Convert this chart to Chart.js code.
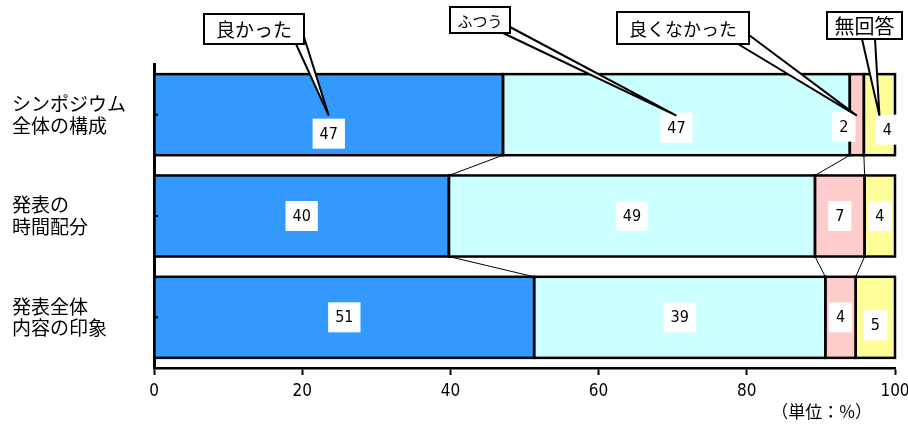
<!DOCTYPE html>
<html>
<head>
<meta charset="utf-8">
<script src="https://cdn.jsdelivr.net/npm/chart.js@4/dist/chart.umd.min.js"></script>
<style>
  html, body { margin: 0; padding: 0; background: #fff; }
  #wrap { width: 908px; height: 425px; }
</style>
</head>
<body>
<div id="wrap"><canvas id="c" width="908" height="425"></canvas></div>
<script>
// Survey results (%), one array per answer
const categories = [['シンポジウム', '全体の構成'], ['発表の', '時間配分'], ['発表全体', '内容の印象']];
const seriesNames = ['良かった', 'ふつう', '良くなかった', '無回答'];
const good     = [47.1, 39.8, 51.3];
const neutral  = [46.8, 49.4, 39.3];
const bad      = [1.9, 6.7, 4.1];
const noAnswer = [4.2, 4.1, 5.3];
const xTicks   = [0, 20, 40, 60, 80, 100];
const unitText = '（単位：%）';

const seriesValues = [good, neutral, bad, noAnswer];
const seriesColors = ['#3399FF', '#CCFFFF', '#FFCCCC', '#FFFF99'];

const NUM_FONT = "'Liberation Sans Narrow', 'DejaVu Sans Condensed', 'Liberation Sans', sans-serif";
const JP_FONT = "'Noto Sans CJK JP', sans-serif";

// Draws segment outlines, series lines between bars, value boxes and series callouts
const overlay = {
  id: 'overlay',
  afterDatasetsDraw(chart, args, opts) {
    const ctx = chart.ctx;
    const metas = chart.data.datasets.map((d, i) => chart.getDatasetMeta(i));
    const rows = chart.data.labels.length;
    ctx.save();

    // series lines joining segment ends of neighbouring bars
    ctx.strokeStyle = '#000';
    ctx.lineWidth = 1;
    for (let r = 0; r < rows - 1; r++) {
      for (let s = 0; s < metas.length - 1; s++) {
        const a = metas[s].data[r], b = metas[s].data[r + 1];
        ctx.beginPath();
        ctx.moveTo(a.x, a.y + a.height / 2);
        ctx.lineTo(b.x, b.y - b.height / 2);
        ctx.stroke();
      }
    }

    // segment outlines
    ctx.lineWidth = 2.5;
    metas.forEach(m => m.data.forEach(el => {
      ctx.strokeRect(el.base, el.y - el.height / 2, el.x - el.base, el.height);
    }));

    // value labels in white boxes
    ctx.font = '16px ' + NUM_FONT;
    ctx.textAlign = 'center';
    ctx.textBaseline = 'middle';
    metas.forEach((m, s) => m.data.forEach((el, r) => {
      const v = chart.data.datasets[s].data[r];
      const txt = String(Math.round(v));
      const nudge = (opts.nudge[r] && opts.nudge[r][s]) || [0, 0];
      const cx = (el.x + el.base) / 2 + nudge[0];
      const cy = el.y + nudge[1];
      const w = ctx.measureText(txt).width + 14, h = 30;
      ctx.fillStyle = '#fff';
      ctx.fillRect(cx - w / 2, cy - h / 2, w, h);
      ctx.fillStyle = '#000';
      ctx.fillText(txt, cx, cy + 1);
    }));

    // callouts naming each series, pointing at the first bar
    opts.callouts.forEach((c, s) => {
      const el = metas[s].data[0];
      const tip = { x: (el.x + el.base) / 2, y: el.y + 1 };
      ctx.beginPath();
      ctx.moveTo(c.base[0][0], c.base[0][1]);
      ctx.lineTo(tip.x, tip.y);
      ctx.lineTo(c.base[1][0], c.base[1][1]);
      ctx.closePath();
      ctx.fillStyle = '#fff';
      ctx.fill();
      ctx.strokeStyle = '#000';
      ctx.lineWidth = 2;
      ctx.beginPath();
      ctx.moveTo(c.base[0][0], c.base[0][1]);
      ctx.lineTo(tip.x, tip.y);
      ctx.lineTo(c.base[1][0], c.base[1][1]);
      ctx.stroke();
      ctx.fillStyle = '#fff';
      ctx.fillRect(c.box[0], c.box[1], c.box[2], c.box[3]);
      ctx.lineWidth = 2;
      ctx.strokeRect(c.box[0], c.box[1], c.box[2], c.box[3]);
      ctx.fillStyle = '#000';
      ctx.font = c.size + 'px ' + JP_FONT;
      ctx.textAlign = 'center';
      ctx.textBaseline = 'middle';
      ctx.fillText(seriesNames[s], c.box[0] + c.box[2] / 2, c.box[1] + c.box[3] / 2 + 1);
    });

    // inner tick marks on the category axis
    const yScale = chart.scales.y;
    ctx.lineWidth = 2;
    yScale.ticks.forEach((t, i) => {
      const py = yScale.getPixelForTick(i);
      ctx.beginPath();
      ctx.moveTo(chart.chartArea.left, py);
      ctx.lineTo(chart.chartArea.left + 4, py);
      ctx.stroke();
    });

    // unit note
    ctx.font = '17px ' + JP_FONT;
    ctx.textAlign = 'right';
    ctx.textBaseline = 'middle';
    ctx.fillStyle = '#000';
    ctx.fillText(unitText, 872, 412);
    ctx.restore();
  }
};

new Chart(document.getElementById('c'), {
  type: 'bar',
  data: {
    labels: categories,
    datasets: seriesNames.map((name, i) => ({
      label: name,
      data: seriesValues[i],
      backgroundColor: seriesColors[i],
      borderWidth: 0,
      barPercentage: 0.8,
      categoryPercentage: 1.0
    }))
  },
  options: {
    indexAxis: 'y',
    responsive: false,
    devicePixelRatio: 1,
    animation: false,
    layout: { padding: { top: 64, left: 12, right: 0, bottom: 0 } },
    plugins: {
      legend: { display: false },
      tooltip: { enabled: false },
      overlay: {
        nudge: [
          [[0, 19], [0, 13], [-13, 12], [8, 15]],
          [],
          [[0, 0], [0, 0], [0, 0], [0, 8]]
        ],
        callouts: [
          { box: [204, 14, 100, 30], size: 19, base: [[296, 44], [304, 37]] },
          { box: [450, 7, 60, 26], size: 15, base: [[503, 33], [510, 27]] },
          { box: [617, 12, 132, 32], size: 18, base: [[738, 44], [749, 35]] },
          { box: [827, 12, 75, 27], size: 20, base: [[862, 39], [875, 39]] }
        ]
      }
    },
    scales: {
      x: {
        stacked: true,
        min: 0,
        max: 100,
        afterBuildTicks: s => { s.ticks = xTicks.map(v => ({ value: v })); },
        afterFit: s => { s.height = 57; s.paddingRight = 13; s.paddingLeft = 0; },
        grid: {
          drawOnChartArea: false,
          drawTicks: true,
          tickLength: 7,
          tickColor: '#000',
          tickWidth: 2
        },
        border: { display: true, color: '#000', width: 2.5 },
        ticks: {
          color: '#000',
          padding: 6,
          font: { family: NUM_FONT, size: 17 }
        }
      },
      y: {
        stacked: true,
        afterFit: s => { s.width = 142; },
        grid: { drawOnChartArea: false, drawTicks: false },
        border: { display: true, color: '#000', width: 3 },
        ticks: {
          color: '#000',
          crossAlign: 'far',
          font: { family: JP_FONT, size: 19, lineHeight: 1.15 }
        }
      }
    }
  },
  plugins: [overlay]
});
</script>
</body>
</html>
